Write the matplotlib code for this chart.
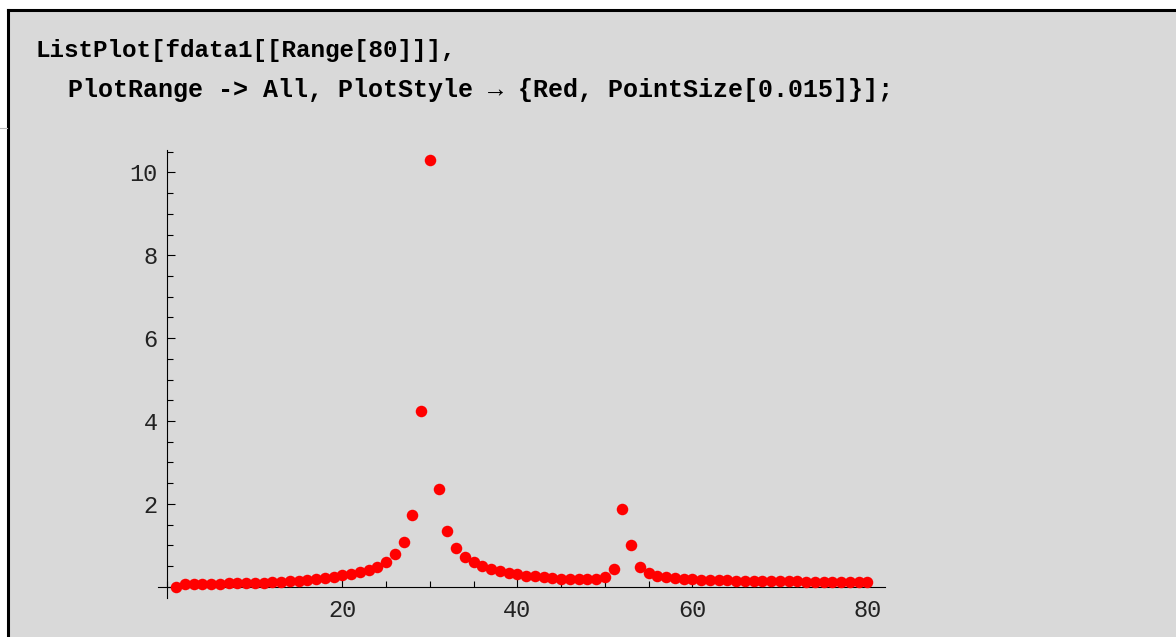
import matplotlib
matplotlib.use('Agg')
import matplotlib.pyplot as plt
from matplotlib.patches import Rectangle
from matplotlib.lines import Line2D
from matplotlib.ticker import MultipleLocator

# data
x = list(range(1, 81))
y = [0.00, 0.06, 0.06, 0.07, 0.07, 0.07, 0.08, 0.08, 0.08, 0.09,
     0.10, 0.11, 0.12, 0.13, 0.14, 0.16, 0.18, 0.21, 0.24, 0.28,
     0.32, 0.35, 0.40, 0.48, 0.60, 0.78, 1.07, 1.73, 4.25, 10.30,
     2.36, 1.34, 0.94, 0.72, 0.60, 0.50, 0.43, 0.38, 0.34, 0.30,
     0.27, 0.25, 0.23, 0.22, 0.20, 0.19, 0.19, 0.19, 0.20, 0.24,
     0.42, 1.87, 1.00, 0.48, 0.34, 0.27, 0.23, 0.21, 0.19, 0.18,
     0.17, 0.17, 0.16, 0.16, 0.15, 0.15, 0.14, 0.14, 0.14, 0.13,
     0.13, 0.13, 0.12, 0.12, 0.12, 0.12, 0.11, 0.11, 0.11, 0.11]
xticks = [20, 40, 60, 80]
yticks = [2, 4, 6, 8, 10]
code_line1 = 'ListPlot[fdata1[[Range[80]]],'
code_line2 = 'PlotRange -> All, PlotStyle \u2192 {Red, PointSize[0.015]}];'

W, H = 1176, 637
fig = plt.figure(figsize=(W / 100, H / 100), dpi=100)
fig.patch.set_facecolor('white')

"cell background and bracket"
fig.add_artist(Rectangle((8 / W, 0), 1, 1 - 10 / H, transform=fig.transFigure,
                         facecolor='#d9d9d9', edgecolor='none', zorder=0))
fig.add_artist(Line2D([8 / W, 8 / W], [0, 1 - 10 / H], color='black', lw=2.2))
fig.add_artist(Line2D([8 / W, 1], [1 - 10 / H, 1 - 10 / H], color='black', lw=2.2))
fig.add_artist(Line2D([0, 7 / W], [1 - 128 / H, 1 - 128 / H], color='#bbbbbb', lw=0.8))

"code text"
mono = ['Liberation Mono', 'DejaVu Sans Mono']
fig.text(35 / W, 1 - 57 / H, code_line1, family=mono,
         weight='bold', fontsize=17.5, va='baseline', color='black')
fig.text(68 / W, 1 - 97 / H, code_line2, family=mono,
         weight='bold', fontsize=18, va='baseline', color='black')

"plot"
ax = fig.add_axes([158 / W, 39 / H, 727 / W, 448 / H])
ax.set_facecolor('none')
ax.plot(x, y, 'o', color='red', ms=8.3, mec='none', clip_on=False, zorder=3)

ax.set_xlim(-1.06, 82.0)
ax.set_ylim(-0.27, 10.54)
ax.spines['left'].set_position(('data', 0))
ax.spines['bottom'].set_position(('data', 0))
ax.spines['top'].set_visible(False)
ax.spines['right'].set_visible(False)
for s in ('left', 'bottom'):
    ax.spines[s].set_linewidth(0.8)

ax.set_xticks(xticks)
ax.set_yticks(yticks)
ax.xaxis.set_minor_locator(MultipleLocator(5))
ax.yaxis.set_minor_locator(MultipleLocator(0.5))
ax.tick_params(which='major', direction='in', length=6, width=0.8, labelsize=17,
               labelcolor='#222222')
ax.tick_params(which='minor', direction='in', length=4, width=0.8)
ax.tick_params(axis='x', which='major', pad=9)
ax.tick_params(axis='y', which='major', pad=7)
for lab in ax.get_xticklabels() + ax.get_yticklabels():
    lab.set_family('Liberation Mono')

fig.savefig('out.png', dpi=100)
